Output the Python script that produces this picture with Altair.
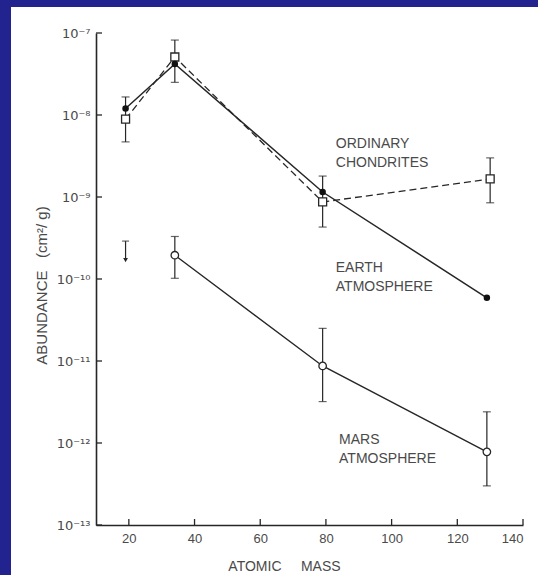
import altair as alt
import pandas as pd

# ---- data ----
earth_mass = [19, 34, 79, 129]
earth_val = [1.2e-8, 4.2e-8, 1.15e-9, 5.9e-11]

chond_mass = [19, 34, 79, 130]
chond_val = [8.9e-9, 5.1e-8, 8.7e-10, 1.66e-9]
chond_hi = [1.66e-8, 8.2e-8, 1.8e-9, 3.0e-9]
chond_lo = [4.7e-9, 2.5e-8, 4.3e-10, 8.5e-10]

mars_mass = [34, 79, 129]
mars_val = [1.95e-10, 8.7e-12, 7.8e-13]
mars_hi = [3.3e-10, 2.5e-11, 2.4e-12]
mars_lo = [1.02e-10, 3.2e-12, 3.0e-13]

mars_ne_mass = [19]
mars_ne_limit = [2.9e-10]
mars_ne_arrow = [1.7e-10]

x_ticks = [20, 40, 60, 80, 100, 120, 140]
y_ticks = [1e-13, 1e-12, 1e-11, 1e-10, 1e-9, 1e-8, 1e-7]
y_tick_labels = ["10⁻¹³", "10⁻¹²", "10⁻¹¹", "10⁻¹⁰", "10⁻⁹", "10⁻⁸", "10⁻⁷"]

label_text = ["ORDINARY", "CHONDRITES", "EARTH", "ATMOSPHERE", "MARS", "ATMOSPHERE"]
label_mass = [83, 83, 83, 83, 84, 84]
label_val = [4.4e-9, 2.6e-9, 1.36e-10, 7.98e-11, 1.1e-12, 6.4e-13]

# ---- tables ----
earth_df = pd.DataFrame({"mass": earth_mass, "val": earth_val})
chond_df = pd.DataFrame({"mass": chond_mass, "val": chond_val, "hi": chond_hi, "lo": chond_lo})
mars_df = pd.DataFrame({"mass": mars_mass, "val": mars_val, "hi": mars_hi, "lo": mars_lo})
ne_df = pd.DataFrame({"mass": mars_ne_mass, "hi": mars_ne_limit, "lo": mars_ne_arrow})
xt_df = pd.DataFrame({"x": x_ticks})
yt_df = pd.DataFrame({"y": y_ticks})
lab_df = pd.DataFrame({"t": label_text, "mass": label_mass, "val": label_val})

W, H = 427, 492
INK = "#262626"
TXT = "#4a4a4a"
FONT = "Liberation Sans"

xs = alt.Scale(domain=[10, 140], nice=False, zero=False)
ys = alt.Scale(type="log", domain=[1e-13, 1e-7], nice=False)

label_expr = "[" + ",".join("'%s'" % s for s in y_tick_labels) + "][round(log(datum.value)/LN10)+13]"

X = alt.X("mass:Q", scale=xs,
          axis=alt.Axis(values=x_ticks, title="ATOMIC\u00a0\u00a0\u00a0\u00a0\u00a0MASS",
                        grid=False, tickSize=0, labelPadding=7, zindex=1,
                        labelFontSize=13, labelColor=TXT, labelFont=FONT,
                        titleFontSize=14, titleColor=TXT, titleFont=FONT, titleFontWeight="normal",
                        titleX=188, titleY=41, titleAlign="center", titleBaseline="middle",
                        domainColor=INK, domainWidth=1.6))
Y = alt.Y("val:Q", scale=ys,
          axis=alt.Axis(values=y_ticks, labelExpr=label_expr,
                        title="ABUNDANCE\u00a0\u00a0\u00a0(cm²/\u00a0g)",
                        grid=False, tickSize=0, labelPadding=6, zindex=1,
                        labelFontSize=13, labelColor=TXT, labelFont="DejaVu Sans",
                        titleFontSize=15, titleColor=TXT, titleFont=FONT, titleFontWeight="normal",
                        titleX=-55, titleY=252, titleAngle=270, titleAlign="center",
                        titleBaseline="middle",
                        domainColor=INK, domainWidth=1.6))

# white panel over the blue frame
panel = alt.Chart(alt.Data(values=[{}])).mark_rect(color="white").encode(
    x=alt.value(-85), x2=alt.value(W + 15), y=alt.value(-26), y2=alt.value(H + 50))

base_e = alt.Chart(earth_df)
base_c = alt.Chart(chond_df)
base_m = alt.Chart(mars_df)

earth_line = base_e.mark_line(color=INK, strokeWidth=1.5).encode(x=X, y=Y)
chond_line = base_c.mark_line(color=INK, strokeWidth=1.3, strokeDash=[7, 4]).encode(x=X, y=Y)
mars_line = base_m.mark_line(color=INK, strokeWidth=1.4).encode(x=X, y=Y)

# error bars
def errbars(base):
    r = base.mark_rule(color=INK, strokeWidth=1.2).encode(
        x=alt.X("mass:Q", scale=xs), y=alt.Y("lo:Q", scale=ys), y2="hi:Q")
    c1 = base.mark_tick(color=INK, orient="horizontal", size=8, thickness=1.2).encode(
        x=alt.X("mass:Q", scale=xs), y=alt.Y("lo:Q", scale=ys))
    c2 = base.mark_tick(color=INK, orient="horizontal", size=8, thickness=1.2).encode(
        x=alt.X("mass:Q", scale=xs), y=alt.Y("hi:Q", scale=ys))
    return [r, c1, c2]

chond_err = errbars(base_c)
mars_err = errbars(base_m)

ne_base = alt.Chart(ne_df)
ne_rule = ne_base.mark_rule(color=INK, strokeWidth=1.2).encode(
    x=alt.X("mass:Q", scale=xs), y=alt.Y("lo:Q", scale=ys), y2="hi:Q")
ne_cap = ne_base.mark_tick(color=INK, orient="horizontal", size=7, thickness=1.2).encode(
    x=alt.X("mass:Q", scale=xs), y=alt.Y("hi:Q", scale=ys))
ne_arrow = ne_base.mark_point(shape="triangle-down", filled=True, color=INK, size=22, opacity=1).encode(
    x=alt.X("mass:Q", scale=xs), y=alt.Y("lo:Q", scale=ys))

chond_pts = base_c.mark_point(shape="square", filled=True, fill="white", stroke=INK,
                              strokeWidth=1.3, size=64, opacity=1).encode(x=X, y=Y)
earth_pts = base_e.mark_point(shape="circle", filled=True, color="#111111", size=42, opacity=1).encode(x=X, y=Y)
mars_pts = base_m.mark_point(shape="circle", filled=True, fill="white", stroke=INK,
                             strokeWidth=1.3, size=56, opacity=1).encode(x=X, y=Y)

# inward ticks
xtick = alt.Chart(xt_df).mark_rule(color=INK, strokeWidth=1.3).encode(
    x=alt.X("x:Q", scale=xs), y=alt.value(H - 6), y2=alt.value(H))
ytick = alt.Chart(yt_df).mark_rule(color=INK, strokeWidth=1.3).encode(
    y=alt.Y("y:Q", scale=ys), x=alt.value(0), x2=alt.value(6))

labels = alt.Chart(lab_df).mark_text(align="left", baseline="middle", font=FONT,
                                     fontSize=14, color=TXT).encode(
    x=alt.X("mass:Q", scale=xs), y=alt.Y("val:Q", scale=ys), text="t:N")

chart = alt.layer(
    panel, chond_line, earth_line, mars_line,
    *chond_err, *mars_err, ne_rule, ne_cap, ne_arrow,
    chond_pts, earth_pts, mars_pts, xtick, ytick, labels
).properties(
    width=W, height=H,
    padding={"left": 96, "top": 33, "right": 15, "bottom": 50},
    autosize="none",
    background="#23238f",
).configure_view(stroke=None)

chart.save("out.html", embed_options={"renderer": "svg", "actions": False})
